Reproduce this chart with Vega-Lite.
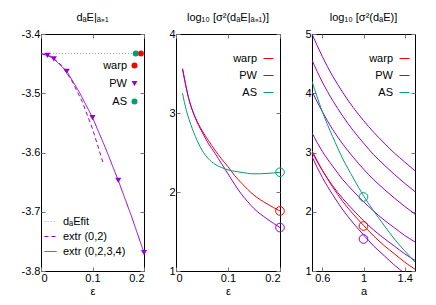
{
  "$schema": "https://vega.github.io/schema/vega-lite/v6.json",
  "padding": {"left": 20, "top": 11, "right": 5, "bottom": 2},
  "background": "white",
  "config": {
    "font": "Liberation Sans",
    "view": {"stroke": "#000", "strokeWidth": 1},
    "axis": {"grid": false, "domain": false, "tickSize": -4, "tickColor": "#777", "labelFont": "Liberation Sans", "labelFontSize": 11, "labelColor": "#000", "labelPadding": 5, "titleFont": "Liberation Sans", "titleFontSize": 11, "titleFontWeight": "normal", "titlePadding": 2, "titleColor": "#000"},
    "title": {"fontSize": 11, "fontWeight": "normal", "font": "Liberation Sans", "offset": 5, "color": "#000"},
    "legend": {"labelFont": "Liberation Sans", "labelFontSize": 11, "labelColor": "#000"}
  },
  "spacing": 32,
  "bounds": "flush",
  "resolve": {
    "scale": {"color": "independent", "stroke": "independent", "fill": "independent", "shape": "independent", "strokeDash": "independent"},
    "legend": {"color": "independent", "stroke": "independent", "fill": "independent", "shape": "independent", "strokeDash": "independent"}
  },
  "datasets": {
    "p1lines": [
      {"eps": 0, "val": -3.433, "line": "dₐEfit"},
      {"eps": 0.2, "val": -3.433, "line": "dₐEfit"},
      {"eps": 0, "val": -3.433, "line": "extr (0,2)"},
      {"eps": 0.02, "val": -3.438, "line": "extr (0,2)"},
      {"eps": 0.04, "val": -3.453, "line": "extr (0,2)"},
      {"eps": 0.06, "val": -3.479, "line": "extr (0,2)"},
      {"eps": 0.08, "val": -3.514, "line": "extr (0,2)"},
      {"eps": 0.1, "val": -3.56, "line": "extr (0,2)"},
      {"eps": 0.12, "val": -3.616, "line": "extr (0,2)"},
      {"eps": 0, "val": -3.433, "line": "extr (0,2,3,4)"},
      {"eps": 0.0125, "val": -3.436, "line": "extr (0,2,3,4)"},
      {"eps": 0.025, "val": -3.442, "line": "extr (0,2,3,4)"},
      {"eps": 0.05, "val": -3.463, "line": "extr (0,2,3,4)"},
      {"eps": 0.075, "val": -3.499, "line": "extr (0,2,3,4)"},
      {"eps": 0.1, "val": -3.541, "line": "extr (0,2,3,4)"},
      {"eps": 0.125, "val": -3.592, "line": "extr (0,2,3,4)"},
      {"eps": 0.15, "val": -3.647, "line": "extr (0,2,3,4)"},
      {"eps": 0.175, "val": -3.706, "line": "extr (0,2,3,4)"},
      {"eps": 0.2, "val": -3.769, "line": "extr (0,2,3,4)"}
    ],
    "p1pts": [
      {"eps": 0.194, "val": -3.433, "method": "warp"},
      {"eps": 0.184, "val": -3.433, "method": "AS"},
      {"eps": 0.0125, "val": -3.436, "method": "PW"},
      {"eps": 0.025, "val": -3.442, "method": "PW"},
      {"eps": 0.05, "val": -3.463, "method": "PW"},
      {"eps": 0.1, "val": -3.541, "method": "PW"},
      {"eps": 0.15, "val": -3.647, "method": "PW"},
      {"eps": 0.2, "val": -3.769, "method": "PW"}
    ],
    "p2lines": [
      {"eps": 0.0125, "val": 3.56, "method": "warp"},
      {"eps": 0.025, "val": 3.17, "method": "warp"},
      {"eps": 0.0375, "val": 2.94, "method": "warp"},
      {"eps": 0.05, "val": 2.78, "method": "warp"},
      {"eps": 0.0625, "val": 2.65, "method": "warp"},
      {"eps": 0.075, "val": 2.53, "method": "warp"},
      {"eps": 0.0875, "val": 2.42, "method": "warp"},
      {"eps": 0.1, "val": 2.32, "method": "warp"},
      {"eps": 0.1125, "val": 2.21, "method": "warp"},
      {"eps": 0.125, "val": 2.12, "method": "warp"},
      {"eps": 0.15, "val": 1.96, "method": "warp"},
      {"eps": 0.175, "val": 1.85, "method": "warp"},
      {"eps": 0.2, "val": 1.76, "method": "warp"},
      {"eps": 0.0125, "val": 3.56, "method": "PW"},
      {"eps": 0.025, "val": 3.17, "method": "PW"},
      {"eps": 0.0375, "val": 2.93, "method": "PW"},
      {"eps": 0.05, "val": 2.76, "method": "PW"},
      {"eps": 0.0625, "val": 2.61, "method": "PW"},
      {"eps": 0.075, "val": 2.49, "method": "PW"},
      {"eps": 0.0875, "val": 2.36, "method": "PW"},
      {"eps": 0.1, "val": 2.23, "method": "PW"},
      {"eps": 0.1125, "val": 2.1, "method": "PW"},
      {"eps": 0.125, "val": 1.98, "method": "PW"},
      {"eps": 0.1375, "val": 1.88, "method": "PW"},
      {"eps": 0.15, "val": 1.79, "method": "PW"},
      {"eps": 0.175, "val": 1.66, "method": "PW"},
      {"eps": 0.2, "val": 1.55, "method": "PW"},
      {"eps": 0.0125, "val": 3.25, "method": "AS"},
      {"eps": 0.02, "val": 3.03, "method": "AS"},
      {"eps": 0.025, "val": 2.92, "method": "AS"},
      {"eps": 0.0375, "val": 2.7, "method": "AS"},
      {"eps": 0.05, "val": 2.53, "method": "AS"},
      {"eps": 0.0625, "val": 2.42, "method": "AS"},
      {"eps": 0.075, "val": 2.35, "method": "AS"},
      {"eps": 0.0875, "val": 2.31, "method": "AS"},
      {"eps": 0.1, "val": 2.28, "method": "AS"},
      {"eps": 0.125, "val": 2.25, "method": "AS"},
      {"eps": 0.15, "val": 2.23, "method": "AS"},
      {"eps": 0.175, "val": 2.235, "method": "AS"},
      {"eps": 0.2, "val": 2.25, "method": "AS"}
    ],
    "p2circ": [
      {"eps": 0.2, "val": 2.25, "method": "AS"},
      {"eps": 0.2, "val": 1.76, "method": "warp"},
      {"eps": 0.2, "val": 1.55, "method": "PW"}
    ],
    "p3lines": [
      {"a": 0.5, "val": 5.0, "method": "PW", "series": "A"},
      {"a": 0.6, "val": 4.62, "method": "PW", "series": "A"},
      {"a": 0.7, "val": 4.29, "method": "PW", "series": "A"},
      {"a": 0.8, "val": 4.01, "method": "PW", "series": "A"},
      {"a": 0.9, "val": 3.76, "method": "PW", "series": "A"},
      {"a": 1.0, "val": 3.54, "method": "PW", "series": "A"},
      {"a": 1.1, "val": 3.34, "method": "PW", "series": "A"},
      {"a": 1.2, "val": 3.16, "method": "PW", "series": "A"},
      {"a": 1.3, "val": 2.99, "method": "PW", "series": "A"},
      {"a": 1.4, "val": 2.84, "method": "PW", "series": "A"},
      {"a": 1.5, "val": 2.69, "method": "PW", "series": "A"},
      {"a": 0.5, "val": 4.56, "method": "PW", "series": "B"},
      {"a": 0.6, "val": 4.19, "method": "PW", "series": "B"},
      {"a": 0.7, "val": 3.88, "method": "PW", "series": "B"},
      {"a": 0.8, "val": 3.61, "method": "PW", "series": "B"},
      {"a": 0.9, "val": 3.37, "method": "PW", "series": "B"},
      {"a": 1.0, "val": 3.16, "method": "PW", "series": "B"},
      {"a": 1.1, "val": 2.96, "method": "PW", "series": "B"},
      {"a": 1.2, "val": 2.79, "method": "PW", "series": "B"},
      {"a": 1.3, "val": 2.63, "method": "PW", "series": "B"},
      {"a": 1.4, "val": 2.48, "method": "PW", "series": "B"},
      {"a": 1.5, "val": 2.34, "method": "PW", "series": "B"},
      {"a": 0.5, "val": 4.03, "method": "PW", "series": "C"},
      {"a": 0.6, "val": 3.69, "method": "PW", "series": "C"},
      {"a": 0.7, "val": 3.39, "method": "PW", "series": "C"},
      {"a": 0.8, "val": 3.14, "method": "PW", "series": "C"},
      {"a": 0.9, "val": 2.92, "method": "PW", "series": "C"},
      {"a": 1.0, "val": 2.72, "method": "PW", "series": "C"},
      {"a": 1.1, "val": 2.54, "method": "PW", "series": "C"},
      {"a": 1.2, "val": 2.38, "method": "PW", "series": "C"},
      {"a": 1.3, "val": 2.23, "method": "PW", "series": "C"},
      {"a": 1.4, "val": 2.09, "method": "PW", "series": "C"},
      {"a": 1.5, "val": 1.96, "method": "PW", "series": "C"},
      {"a": 0.5, "val": 3.33, "method": "PW", "series": "D"},
      {"a": 0.6, "val": 3.02, "method": "PW", "series": "D"},
      {"a": 0.7, "val": 2.77, "method": "PW", "series": "D"},
      {"a": 0.8, "val": 2.54, "method": "PW", "series": "D"},
      {"a": 0.9, "val": 2.35, "method": "PW", "series": "D"},
      {"a": 1.0, "val": 2.17, "method": "PW", "series": "D"},
      {"a": 1.1, "val": 2.01, "method": "PW", "series": "D"},
      {"a": 1.2, "val": 1.86, "method": "PW", "series": "D"},
      {"a": 1.3, "val": 1.73, "method": "PW", "series": "D"},
      {"a": 1.4, "val": 1.6, "method": "PW", "series": "D"},
      {"a": 1.5, "val": 1.49, "method": "PW", "series": "D"},
      {"a": 0.5, "val": 3.0, "method": "PW", "series": "E"},
      {"a": 0.6, "val": 2.7, "method": "PW", "series": "E"},
      {"a": 0.7, "val": 2.44, "method": "PW", "series": "E"},
      {"a": 0.8, "val": 2.22, "method": "PW", "series": "E"},
      {"a": 0.9, "val": 2.03, "method": "PW", "series": "E"},
      {"a": 1.0, "val": 1.85, "method": "PW", "series": "E"},
      {"a": 1.1, "val": 1.69, "method": "PW", "series": "E"},
      {"a": 1.2, "val": 1.55, "method": "PW", "series": "E"},
      {"a": 1.3, "val": 1.42, "method": "PW", "series": "E"},
      {"a": 1.4, "val": 1.29, "method": "PW", "series": "E"},
      {"a": 1.5, "val": 1.18, "method": "PW", "series": "E"},
      {"a": 0.5, "val": 2.93, "method": "PW", "series": "F"},
      {"a": 0.6, "val": 2.58, "method": "PW", "series": "F"},
      {"a": 0.7, "val": 2.29, "method": "PW", "series": "F"},
      {"a": 0.8, "val": 2.03, "method": "PW", "series": "F"},
      {"a": 0.9, "val": 1.81, "method": "PW", "series": "F"},
      {"a": 1.0, "val": 1.61, "method": "PW", "series": "F"},
      {"a": 1.1, "val": 1.42, "method": "PW", "series": "F"},
      {"a": 1.2, "val": 1.26, "method": "PW", "series": "F"},
      {"a": 1.3, "val": 1.1, "method": "PW", "series": "F"},
      {"a": 1.4, "val": 0.96, "method": "PW", "series": "F"},
      {"a": 1.5, "val": 0.83, "method": "PW", "series": "F"},
      {"a": 0.5, "val": 3.03, "method": "warp", "series": "R"},
      {"a": 0.6, "val": 2.7, "method": "warp", "series": "R"},
      {"a": 0.7, "val": 2.42, "method": "warp", "series": "R"},
      {"a": 0.8, "val": 2.17, "method": "warp", "series": "R"},
      {"a": 0.9, "val": 1.96, "method": "warp", "series": "R"},
      {"a": 1.0, "val": 1.77, "method": "warp", "series": "R"},
      {"a": 1.1, "val": 1.59, "method": "warp", "series": "R"},
      {"a": 1.2, "val": 1.43, "method": "warp", "series": "R"},
      {"a": 1.3, "val": 1.29, "method": "warp", "series": "R"},
      {"a": 1.4, "val": 1.15, "method": "warp", "series": "R"},
      {"a": 1.5, "val": 1.03, "method": "warp", "series": "R"},
      {"a": 0.5, "val": 4.2, "method": "AS", "series": "G"},
      {"a": 0.6, "val": 3.69, "method": "AS", "series": "G"},
      {"a": 0.7, "val": 3.27, "method": "AS", "series": "G"},
      {"a": 0.8, "val": 2.89, "method": "AS", "series": "G"},
      {"a": 0.9, "val": 2.57, "method": "AS", "series": "G"},
      {"a": 1.0, "val": 2.27, "method": "AS", "series": "G"},
      {"a": 1.1, "val": 2.01, "method": "AS", "series": "G"},
      {"a": 1.2, "val": 1.77, "method": "AS", "series": "G"},
      {"a": 1.3, "val": 1.54, "method": "AS", "series": "G"},
      {"a": 1.4, "val": 1.34, "method": "AS", "series": "G"},
      {"a": 1.5, "val": 1.15, "method": "AS", "series": "G"}
    ],
    "p3circ": [
      {"a": 1.0, "val": 2.25, "method": "AS"},
      {"a": 1.0, "val": 1.76, "method": "warp"},
      {"a": 1.0, "val": 1.54, "method": "PW"}
    ]
  },
  "hconcat": [
    {
      "width": 103, "height": 237,
      "title": "dₐE|ₐ₌₁",
      "resolve": {"axis": {"x": "independent", "y": "independent"}},
      "layer": [
        {
          "data": {"name": "p1lines"},
          "mark": {"type": "line", "strokeWidth": 1, "clip": true},
          "encoding": {
            "x": {"field": "eps", "type": "quantitative", "scale": {"domain": [0, 0.2], "nice": false, "zero": false}, "axis": {"values": [0, 0.1, 0.2], "title": "ε", "labelExpr": "datum.value == 0 ? '0' : format(datum.value, '.1f')"}},
            "y": {"field": "val", "type": "quantitative", "scale": {"domain": [-3.8, -3.4], "nice": false, "zero": false}, "axis": {"values": [-3.8, -3.7, -3.6, -3.5, -3.4], "title": null, "labelExpr": "'-' + format(-datum.value, '.1f')"}},
            "stroke": {"field": "line", "type": "nominal", "scale": {"domain": ["dₐEfit", "extr (0,2)", "extr (0,2,3,4)"], "range": ["#a0a0a0", "#9400d3", "#9400d3"]}, "legend": {"orient": "none", "legendX": 3, "legendY": 181, "title": null, "symbolType": "stroke", "symbolSize": 144, "symbolStrokeWidth": 1, "labelOffset": 6, "rowPadding": 3}},
            "strokeDash": {"field": "line", "type": "nominal", "scale": {"domain": ["dₐEfit", "extr (0,2)", "extr (0,2,3,4)"], "range": [[1, 2], [4, 3], [1, 0]]}, "legend": {"orient": "none", "legendX": 3, "legendY": 181, "title": null, "symbolType": "stroke", "symbolSize": 144, "symbolStrokeWidth": 1, "labelOffset": 6, "rowPadding": 3}}
          }
        },
        {
          "data": {"name": "p1pts"},
          "mark": {"type": "point", "filled": true, "size": 36, "opacity": 1},
          "encoding": {
            "x": {"field": "eps", "type": "quantitative", "scale": {"domain": [0, 0.2], "nice": false, "zero": false}, "axis": {"orient": "top", "values": [0, 0.1, 0.2], "labels": false, "title": null}},
            "y": {"field": "val", "type": "quantitative", "scale": {"domain": [-3.8, -3.4], "nice": false, "zero": false}, "axis": {"orient": "right", "values": [-3.8, -3.7, -3.6, -3.5, -3.4], "labels": false, "title": null}},
            "fill": {"field": "method", "type": "nominal", "scale": {"domain": ["warp", "PW", "AS"], "range": ["#ff0000", "#9400d3", "#009e73"]}, "legend": {"orient": "none", "legendX": 88, "legendY": 26, "title": null, "symbolSize": 36, "labelAlign": "right", "labelOffset": -13, "rowPadding": 5}},
            "shape": {"field": "method", "type": "nominal", "scale": {"domain": ["warp", "PW", "AS"], "range": ["circle", "triangle-down", "circle"]}, "legend": {"orient": "none", "legendX": 88, "legendY": 26, "title": null, "symbolSize": 36, "labelAlign": "right", "labelOffset": -13, "rowPadding": 5}}
          }
        }
      ]
    },
    {
      "width": 104, "height": 237,
      "title": "log₁₀ [σ²(dₐE|ₐ₌₁)]",
      "resolve": {"axis": {"x": "independent", "y": "independent"}},
      "layer": [
        {
          "data": {"name": "p2lines"},
          "mark": {"type": "line", "strokeWidth": 1, "interpolate": "monotone", "clip": true},
          "encoding": {
            "x": {"field": "eps", "type": "quantitative", "scale": {"domain": [0, 0.2], "nice": false, "zero": false}, "axis": {"values": [0, 0.1, 0.2], "title": "ε", "labelExpr": "datum.value == 0 ? '0' : format(datum.value, '.1f')"}},
            "y": {"field": "val", "type": "quantitative", "scale": {"domain": [1, 4], "nice": false, "zero": false}, "axis": {"values": [1, 2, 3, 4], "title": null}},
            "color": {"field": "method", "type": "nominal", "scale": {"domain": ["warp", "PW", "AS"], "range": ["#ff0000", "#9400d3", "#009e73"]}, "legend": {"orient": "none", "legendX": 87, "legendY": 19, "title": null, "symbolType": "stroke", "symbolSize": 100, "symbolStrokeWidth": 1, "labelAlign": "right", "labelOffset": -17, "rowPadding": 5}}
          }
        },
        {
          "data": {"name": "p2circ"},
          "mark": {"type": "point", "filled": false, "size": 75, "strokeWidth": 1, "opacity": 1},
          "encoding": {
            "x": {"field": "eps", "type": "quantitative", "scale": {"domain": [0, 0.2], "nice": false, "zero": false}, "axis": {"orient": "top", "values": [0, 0.1, 0.2], "labels": false, "title": null}},
            "y": {"field": "val", "type": "quantitative", "scale": {"domain": [1, 4], "nice": false, "zero": false}, "axis": {"orient": "right", "values": [1, 2, 3, 4], "labels": false, "title": null}},
            "stroke": {"field": "method", "type": "nominal", "scale": {"domain": ["warp", "PW", "AS"], "range": ["#ff0000", "#9400d3", "#009e73"]}, "legend": null}
          }
        }
      ]
    },
    {
      "width": 103, "height": 237,
      "title": "log₁₀ [σ²(dₐE)]",
      "resolve": {"axis": {"x": "independent", "y": "independent"}},
      "layer": [
        {
          "data": {"name": "p3lines"},
          "mark": {"type": "line", "strokeWidth": 1, "interpolate": "monotone", "clip": true},
          "encoding": {
            "x": {"field": "a", "type": "quantitative", "scale": {"domain": [0.5, 1.5], "nice": false, "zero": false}, "axis": {"values": [0.6, 1, 1.4], "title": "a", "labelExpr": "datum.value == 1 ? '1' : format(datum.value, '.1f')"}},
            "y": {"field": "val", "type": "quantitative", "scale": {"domain": [1, 5], "nice": false, "zero": false}, "axis": {"values": [1, 2, 3, 4, 5], "title": null}},
            "detail": {"field": "series", "type": "nominal"},
            "color": {"field": "method", "type": "nominal", "scale": {"domain": ["warp", "PW", "AS"], "range": ["#ff0000", "#9400d3", "#009e73"]}, "legend": {"orient": "none", "legendX": 87, "legendY": 19, "title": null, "symbolType": "stroke", "symbolSize": 100, "symbolStrokeWidth": 1, "labelAlign": "right", "labelOffset": -17, "rowPadding": 5}}
          }
        },
        {
          "data": {"name": "p3circ"},
          "mark": {"type": "point", "filled": false, "size": 75, "strokeWidth": 1, "opacity": 1},
          "encoding": {
            "x": {"field": "a", "type": "quantitative", "scale": {"domain": [0.5, 1.5], "nice": false, "zero": false}, "axis": {"orient": "top", "values": [0.6, 1, 1.4], "labels": false, "title": null}},
            "y": {"field": "val", "type": "quantitative", "scale": {"domain": [1, 5], "nice": false, "zero": false}, "axis": {"orient": "right", "values": [1, 2, 3, 4, 5], "labels": false, "title": null}},
            "stroke": {"field": "method", "type": "nominal", "scale": {"domain": ["warp", "PW", "AS"], "range": ["#ff0000", "#9400d3", "#009e73"]}, "legend": null}
          }
        }
      ]
    }
  ]
}
